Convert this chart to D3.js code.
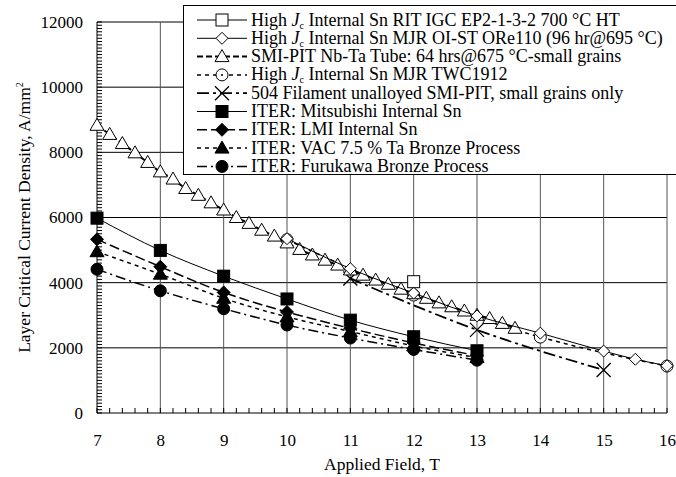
<!DOCTYPE html>
<html>
<head>
<meta charset="utf-8">
<script src="https://cdn.jsdelivr.net/npm/d3@7"></script>
<style>
  body { margin: 0; background: #fff; }
  svg text { font-family: "Liberation Serif", "Times New Roman", serif; fill: #000; }
</style>
</head>
<body>
<div class="chart"></div>
<script>
var width = 676, height = 477;
var margin = ({top: 22, right: 9, bottom: 64, left: 97});
var serif = "'Liberation Serif', 'Times New Roman', serif";

// data
var ritField = [12];
var ritJc = [4030];

var ore110Field = [10, 11, 12, 13, 14, 15, 15.5, 16];
var ore110Jc = [5350, 4430, 3680, 2980, 2450, 1900, 1650, 1450];

var smiField = [7, 7.2, 7.4, 7.6, 7.8, 8, 8.2, 8.4, 8.6, 8.8, 9, 9.2, 9.4, 9.6, 9.8, 10,
  10.2, 10.4, 10.6, 10.8, 11, 11.2, 11.4, 11.6, 11.8, 12, 12.2, 12.4, 12.6, 12.8, 13, 13.2, 13.4, 13.6];
var smiJc = [8830, 8550, 8270, 7985, 7690, 7400, 7180, 6890, 6680, 6450, 6230, 6000, 5820, 5610, 5430, 5220,
  5020, 4850, 4690, 4540, 4390, 4230, 4080, 3950, 3800, 3660, 3520, 3380, 3260, 3130, 3000, 2900, 2750, 2600];

var twcField = [10, 12, 14, 16];
var twcJc = [5320, 3620, 2330, 1440];

var pitField = [11, 13, 15];
var pitJc = [4130, 2550, 1320];

var iterField = [7, 8, 9, 10, 11, 12, 13];
var mitsubishiJc = [5980, 4990, 4200, 3500, 2850, 2340, 1910];
var lmiJc = [5330, 4490, 3700, 3100, 2600, 2150, 1760];
var vacJc = [4950, 4260, 3520, 2950, 2500, 2060, 1700];
var furukawaJc = [4410, 3750, 3200, 2700, 2300, 1950, 1620];

var xTicks = [7, 8, 9, 10, 11, 12, 13, 14, 15, 16];
var yTicks = [0, 2000, 4000, 6000, 8000, 10000, 12000];

var series = [
  {name: "High J_c Internal Sn RIT IGC EP2-1-3-2 700 °C HT", field: ritField, jc: ritJc, marker: "square", fill: "#fff", dash: null, lw: 1},
  {name: "High J_c Internal Sn MJR OI-ST ORe110 (96 hr@695 °C)", field: ore110Field, jc: ore110Jc, marker: "diamond", fill: "#fff", dash: null, lw: 1},
  {name: "SMI-PIT Nb-Ta Tube: 64 hrs@675 °C-small grains", field: smiField, jc: smiJc, marker: "triangle", fill: "#fff", dash: "6,3", lw: 2},
  {name: "High J_c Internal Sn MJR TWC1912", field: twcField, jc: twcJc, marker: "circle", fill: "#fff", dash: "4,4", lw: 1.5, dot: true},
  {name: "504 Filament unalloyed SMI-PIT, small grains only", field: pitField, jc: pitJc, marker: "cross", fill: "none", dash: "12,4,3,4", lw: 1.8},
  {name: "ITER: Mitsubishi Internal Sn", field: iterField, jc: mitsubishiJc, marker: "square", fill: "#000", dash: null, lw: 1},
  {name: "ITER: LMI Internal Sn", field: iterField, jc: lmiJc, marker: "diamond", fill: "#000", dash: "10,4", lw: 1.5},
  {name: "ITER: VAC 7.5 % Ta Bronze Process", field: iterField, jc: vacJc, marker: "triangle", fill: "#000", dash: "4,4", lw: 1.5},
  {name: "ITER: Furukawa Bronze Process", field: iterField, jc: furukawaJc, marker: "circle", fill: "#000", dash: "10,4,2,4", lw: 1.5}
];

var svg = d3.select(".chart").append("svg")
  .attr("width", width).attr("height", height);

var x = d3.scaleLinear().domain([7, 16]).range([margin.left, width - margin.right]);
var y = d3.scaleLinear().domain([0, 12000]).range([height - margin.bottom, margin.top]);

// grid
var grid = svg.append("g");
grid.selectAll(".hg").data(yTicks).join("line")
  .attr("x1", x(7)).attr("x2", x(16))
  .attr("y1", d => y(d)).attr("y2", d => y(d))
  .attr("stroke", "#000").attr("stroke-width", 1);
grid.selectAll(".vg").data(xTicks).join("line")
  .attr("x1", d => x(d)).attr("x2", d => x(d))
  .attr("y1", y(0)).attr("y2", y(12000))
  .attr("stroke", d => d === 7 ? "#000" : "#555").attr("stroke-width", 1);

// minor ticks, pointing inward
var xMinor = d3.range(7, 16.001, 0.2);
grid.selectAll(".xm").data(xMinor).join("line")
  .attr("x1", d => x(d)).attr("x2", d => x(d))
  .attr("y1", y(0)).attr("y2", y(0) - 5)
  .attr("stroke", "#000");
var yMinor = d3.range(0, 12001, 100);
grid.selectAll(".ym").data(yMinor).join("line")
  .attr("x1", x(7)).attr("x2", x(7) + 5)
  .attr("y1", d => y(d)).attr("y2", d => y(d))
  .attr("stroke", "#000");

// axes labels
svg.append("g")
  .attr("transform", `translate(0,${y(0)})`)
  .call(d3.axisBottom(x).tickValues(xTicks).tickSize(0).tickPadding(21).tickFormat(d3.format("d")))
  .attr("font-family", serif).attr("font-size", 17)
  .call(g => g.select(".domain").remove());

svg.append("g")
  .attr("transform", `translate(${x(7)},0)`)
  .call(d3.axisLeft(y).tickValues(yTicks).tickSize(0).tickPadding(14).tickFormat(d3.format("d")))
  .attr("font-family", serif).attr("font-size", 17)
  .call(g => g.select(".domain").remove());

svg.append("text")
  .attr("x", (x(7) + x(16)) / 2).attr("y", 470)
  .attr("text-anchor", "middle").style("font-size", "17.5px")
  .text("Applied Field, T");

var yl = svg.append("text")
  .attr("transform", `translate(30,${y(6000)}) rotate(-90)`)
  .attr("text-anchor", "middle").style("font-size", "17.5px");
yl.append("tspan").text("Layer Critical Current Density, A/mm");
yl.append("tspan").attr("dy", -7).style("font-size", "10px").text("2");

// markers
function drawMarker(g, s, cx, cy, legend) {
  var r = 6;
  if (s.marker === "square") {
    g.append("rect").attr("x", cx - r).attr("y", cy - r).attr("width", 2 * r).attr("height", 2 * r)
      .attr("fill", s.fill).attr("stroke", "#000");
  } else if (s.marker === "diamond") {
    var d = s.fill === "#000" ? 6.5 : 6;
    g.append("path").attr("d", `M${cx},${cy - d}L${cx + d},${cy}L${cx},${cy + d}L${cx - d},${cy}Z`)
      .attr("fill", s.fill).attr("stroke", "#000");
  } else if (s.marker === "triangle") {
    g.append("path").attr("d", `M${cx},${cy - 7}L${cx + 7},${cy + 5}L${cx - 7},${cy + 5}Z`)
      .attr("fill", s.fill).attr("stroke", "#000");
  } else if (s.marker === "circle") {
    g.append("circle").attr("cx", cx).attr("cy", cy).attr("r", r)
      .attr("fill", s.fill).attr("stroke", "#000");
    if (legend && s.dot) g.append("circle").attr("cx", cx).attr("cy", cy).attr("r", 1).attr("fill", "#000");
  } else if (s.marker === "cross") {
    g.append("path").attr("d", `M${cx - 7},${cy - 7}L${cx + 7},${cy + 7}M${cx - 7},${cy + 7}L${cx + 7},${cy - 7}`)
      .attr("stroke", "#000").attr("stroke-width", 1.3).attr("fill", "none");
  }
}

var line = d3.line().x(d => x(d[0])).y(d => y(d[1])).curve(d3.curveMonotoneX);
var plot = svg.append("g");

// draw in reverse so the top of the legend sits on top
series.slice().reverse().forEach(function(s) {
  var pts = s.field.map((f, i) => [f, s.jc[i]]);
  if (pts.length > 1) {
    plot.append("path").attr("d", line(pts))
      .attr("fill", "none").attr("stroke", "#000")
      .attr("stroke-width", s.lw)
      .attr("stroke-dasharray", s.dash);
  }
  var mg = plot.append("g");
  pts.forEach(p => drawMarker(mg, s, x(p[0]), y(p[1]), false));
});

// legend
var lg = svg.append("g");
lg.append("rect").attr("x", 183.5).attr("y", 5.5).attr("width", 500).attr("height", 169)
  .attr("fill", "#fff").attr("stroke", "#000");
series.forEach(function(s, i) {
  var ly = 20 + i * 18.3;
  lg.append("line").attr("x1", 197).attr("x2", 247).attr("y1", ly).attr("y2", ly)
    .attr("stroke", "#000").attr("stroke-width", s.lw).attr("stroke-dasharray", s.dash);
  drawMarker(lg, s, 222, ly, true);
  var t = lg.append("text").attr("x", 251).attr("y", ly + 5.5).style("font-size", "18px");
  var parts = s.name.split("J_c");
  if (parts.length > 1) {
    t.append("tspan").text(parts[0]);
    t.append("tspan").style("font-style", "italic").text("J");
    t.append("tspan").attr("dy", 3).style("font-size", "10px").text("c");
    t.append("tspan").attr("dy", -3).text(parts[1]);
  } else {
    t.text(s.name);
  }
});
</script>
</body>
</html>
